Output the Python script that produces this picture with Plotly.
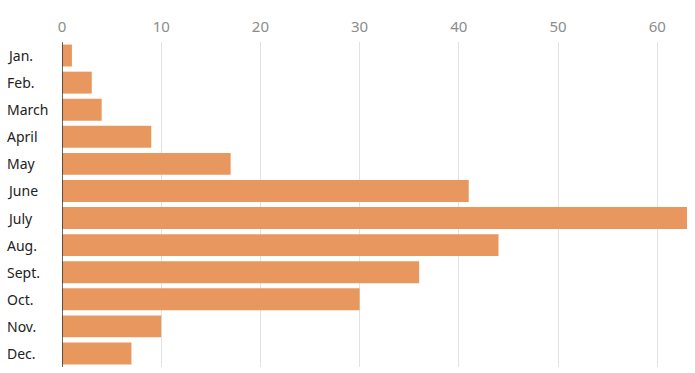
import plotly.graph_objects as go

months = ["Jan.", "Feb.", "March", "April", "May", "June", "July", "Aug.", "Sept.", "Oct.", "Nov.", "Dec."]
values = [1, 3, 4, 9, 17, 41, 63, 44, 36, 30, 10, 7]
tick_vals = [0, 10, 20, 30, 40, 50, 60]
tick_text = ["0", "10", "20", "30", "40", "50", "60"]

W, H = 695, 373
ML, MR, MT, MB = 62, 8, 42, 6
plot_w = W - ML - MR

FONT = "Noto Sans, Open Sans, sans-serif"

fig = go.Figure()
fig.add_trace(go.Bar(
    x=values, y=months, orientation="h",
    marker=dict(color="#E8985E", line=dict(width=0)),
    hoverinfo="x+y",
))

annotations = []
for m in months:
    annotations.append(dict(
        x=-57 / plot_w, xref="paper", y=m, yref="y",
        text=m, showarrow=False, xanchor="left", yanchor="middle",
        font=dict(family=FONT, size=14, color="#222"),
    ))

fig.update_layout(
    width=W, height=H,
    margin=dict(l=ML, r=MR, t=MT, b=MB, autoexpand=False),
    paper_bgcolor="white", plot_bgcolor="white",
    bargap=0.19,
    showlegend=False,
    annotations=annotations,
    xaxis=dict(
        side="top", range=[0, 63], tickvals=tick_vals, ticktext=tick_text,
        showgrid=True, gridcolor="#e2e2e2", gridwidth=1,
        zeroline=False, showline=False, ticks="", automargin=False,
        tickfont=dict(family=FONT, size=15, color="#8c8c8c"),
        ticklabelstandoff=6, fixedrange=True,
    ),
    yaxis=dict(
        categoryorder="array", categoryarray=months, autorange="reversed",
        showticklabels=False, showgrid=False, zeroline=False, showline=False,
        ticks="", fixedrange=True, automargin=False,
    ),
    shapes=[dict(type="line", xref="x", yref="paper", x0=0, x1=0, y0=0, y1=1,
                 line=dict(color="#333", width=1.5), layer="above")],
)

fig.write_html("out.html", config={"displayModeBar": False},
               post_script="document.body.style.margin='0';document.body.style.overflow='hidden';")
